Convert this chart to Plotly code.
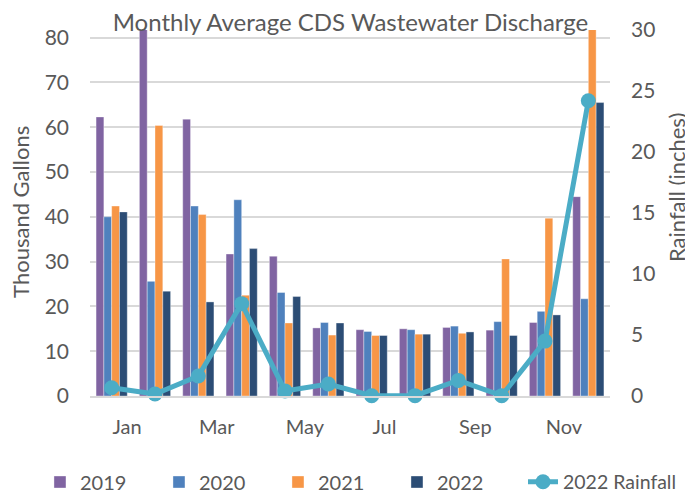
import plotly.graph_objects as go

months = ["Jan", "Feb", "Mar", "Apr", "May", "Jun", "Jul", "Aug", "Sep", "Oct", "Nov", "Dec"]
tick_labels = ["Jan", "Mar", "May", "Jul", "Sep", "Nov"]

y2019 = [62.3, 82.0, 61.8, 31.7, 31.2, 15.2, 14.8, 15.0, 15.3, 14.7, 16.4, 44.5]
y2020 = [40.0, 25.6, 42.4, 43.8, 23.1, 16.4, 14.4, 14.8, 15.6, 16.6, 18.9, 21.7]
y2021 = [42.4, 60.4, 40.5, 22.5, 16.3, 13.6, 13.5, 13.8, 14.0, 30.6, 39.7, 82.0]
y2022 = [41.1, 23.4, 21.0, 32.9, 22.2, 16.3, 13.5, 13.8, 14.3, 13.5, 18.1, 65.5]
rain2022 = [0.68, 0.16, 1.64, 7.57, 0.42, 0.98, 0.02, 0.03, 1.28, 0.03, 4.5, 24.2]

colors = {"2019": "#8064A2", "2020": "#4F81BD", "2021": "#F79646", "2022": "#2C4D75"}
rain_color = "#4BACC6"
grey = "#595959"
font_family = "Lato, 'Open Sans', sans-serif"

fig = go.Figure()
for name, vals in [("2019", y2019), ("2020", y2020), ("2021", y2021), ("2022", y2022)]:
    fig.add_trace(go.Bar(
        x=months, y=vals, name=name, legend="legend",
        marker=dict(color=colors[name], line=dict(color="rgba(255,255,255,0.6)", width=0.6)),
    ))

fig.add_trace(go.Scatter(
    x=months, y=rain2022, name="2022 Rainfall", yaxis="y2", legend="legend2",
    mode="lines+markers",
    line=dict(color=rain_color, width=5),
    marker=dict(color=rain_color, size=15),
    cliponaxis=False,
))

# page body has an 8px default margin, so the figure is sized to the visible area
fig.update_layout(
    width=685, height=486,
    margin=dict(l=82, r=83, t=22, b=98, autoexpand=False),
    paper_bgcolor="white", plot_bgcolor="white",
    font=dict(family=font_family, color=grey, size=19),
    title=dict(text="Monthly Average CDS Wastewater Discharge", x=0.5, xanchor="center",
               y=1 - 14.5 / 486, yanchor="middle",
               font=dict(size=24, color=grey, family=font_family)),
    barmode="group", bargap=0.28, bargroupgap=0,
    xaxis=dict(
        type="category", categoryorder="array", categoryarray=months,
        tickmode="array", tickvals=tick_labels, ticktext=tick_labels,
        ticklabelposition="outside right", ticklabelstandoff=12,
        showgrid=False, showline=True, linecolor="#D9D9D9", linewidth=1.5,
        ticks="", tickfont=dict(size=20, color=grey),
        range=[-0.5, 11.5], automargin=False,
    ),
    yaxis=dict(
        range=[0, 81.7], tickmode="array", tickvals=[0, 10, 20, 30, 40, 50, 60, 70, 80],
        showgrid=True, gridcolor="#D9D9D9", gridwidth=1.5, zeroline=False,
        ticklabelstandoff=20,
        tickfont=dict(size=21, color=grey), automargin=False,
    ),
    yaxis2=dict(
        range=[0, 30], overlaying="y", side="right",
        tickmode="array", tickvals=[0, 5, 10, 15, 20, 25, 30],
        showgrid=False, zeroline=False, ticklabelstandoff=20,
        tickfont=dict(size=21, color=grey), automargin=False,
    ),
    legend=dict(orientation="h", x=-0.0962, xanchor="left", y=-0.235, yanchor="middle",
                font=dict(size=20, color=grey), traceorder="normal",
                entrywidth=74, entrywidthmode="pixels"),
    legend2=dict(orientation="h", x=0.8327, xanchor="left", y=-0.235, yanchor="middle",
                 font=dict(size=19.5, color=grey)),
    annotations=[
        dict(text="Thousand Gallons", xref="paper", yref="paper", x=-0.1327, y=0.503,
             xanchor="center", yanchor="middle", textangle=-90, showarrow=False,
             font=dict(size=22, color=grey)),
        dict(text="Rainfall (inches)", xref="paper", yref="paper", x=1.1269, y=0.571,
             xanchor="center", yanchor="middle", textangle=-90, showarrow=False,
             font=dict(size=22, color=grey)),
    ],
)

fig.write_html("out.html")
